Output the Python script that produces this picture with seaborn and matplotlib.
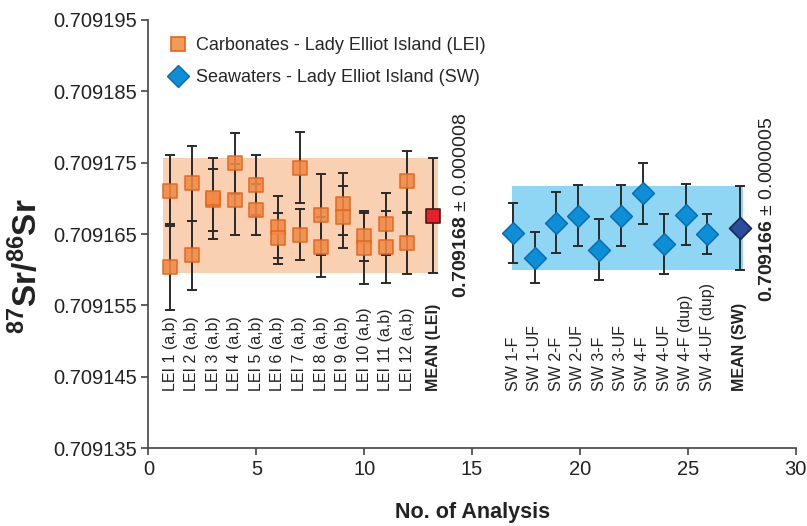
import numpy as np
import pandas as pd
import seaborn as sns
import matplotlib.pyplot as plt
from matplotlib.lines import Line2D
from matplotlib.ticker import FormatStrFormatter

# %% veriler
lei_x = [1, 2, 3, 4, 5, 6, 7, 8, 9, 10, 11, 12]
lei_a = [0.7091711, 0.7091721, 0.7091698, 0.7091749, 0.7091719, 0.7091660,
         0.7091743, 0.7091677, 0.7091692, 0.7091647, 0.7091664, 0.7091724]
lei_a_err = [0.0000050, 0.0000053, 0.0000043, 0.0000043, 0.0000042, 0.0000043,
             0.0000050, 0.0000057, 0.0000043, 0.0000035, 0.0000043, 0.0000043]
lei_b = [0.7091604, 0.7091620, 0.7091700, 0.7091698, 0.7091684, 0.7091644,
         0.7091649, 0.7091632, 0.7091674, 0.7091630, 0.7091632, 0.7091637]
lei_b_err = [0.0000060, 0.0000048, 0.0000057, 0.0000050, 0.0000036, 0.0000036,
             0.0000036, 0.0000042, 0.0000043, 0.0000050, 0.0000050, 0.0000043]
lei_labels = ["LEI 1 (a,b)", "LEI 2 (a,b)", "LEI 3 (a,b)", "LEI 4 (a,b)", "LEI 5 (a,b)",
              "LEI 6 (a,b)", "LEI 7 (a,b)", "LEI 8 (a,b)", "LEI 9 (a,b)", "LEI 10 (a,b)",
              "LEI 11 (a,b)", "LEI 12 (a,b)"]
lei_mean_x = 13.2
lei_mean = 0.7091676
lei_mean_err = 0.0000081

sw_x = [16.9, 17.9, 18.9, 19.9, 20.9, 21.9, 22.9, 23.9, 24.9, 25.9]
sw_y = [0.7091651, 0.7091617, 0.7091666, 0.7091676, 0.7091628, 0.7091676,
        0.7091707, 0.7091636, 0.7091677, 0.7091650]
sw_err = [0.0000042, 0.0000036, 0.0000043, 0.0000043, 0.0000043, 0.0000043,
          0.0000043, 0.0000042, 0.0000043, 0.0000028]
sw_labels = ["SW 1-F", "SW 1-UF", "SW 2-F", "SW 2-UF", "SW 3-F", "SW 3-UF",
             "SW 4-F", "SW 4-UF", "SW 4-F (dup)", "SW 4-UF (dup)"]
sw_mean_x = 27.4
sw_mean = 0.7091658
sw_mean_err = 0.0000059

lei_text = ("0.709168", "± 0.000008")
sw_text = ("0.709166", "± 0.000005")

# %% tablo
lei_df = pd.DataFrame({"x": lei_x + lei_x, "y": lei_a + lei_b, "err": lei_a_err + lei_b_err})
sw_df = pd.DataFrame({"x": sw_x, "y": sw_y, "err": sw_err})

# %% stil
sns.set_style("ticks")
plt.rcParams["font.family"] = ["Liberation Sans", "DejaVu Sans"]
plt.rcParams["mathtext.fontset"] = "custom"
plt.rcParams["mathtext.rm"] = "Liberation Sans"
plt.rcParams["mathtext.bf"] = "Liberation Sans:bold"
plt.rcParams["mathtext.it"] = "Liberation Sans:italic"

orange = "#F28A45"
orange_edge = "#E2661C"
orange_band = "#FAD0B2"
blue = "#0C8FD6"
blue_edge = "#0A68AE"
blue_band = "#8ED6F4"
txt = "#222222"
ecol = "#2a2a2a"

fig, ax = plt.subplots(figsize=(8.07, 5.26), dpi=100)
fig.subplots_adjust(left=0.184, right=0.986, top=0.962, bottom=0.148)

# ortalama bantları
ax.fill_between([0.67, 13.4], lei_mean - lei_mean_err, lei_mean + lei_mean_err,
                color=orange_band, lw=0, zorder=1)
ax.fill_between([16.84, 27.56], sw_mean - sw_mean_err, sw_mean + sw_mean_err,
                color=blue_band, lw=0, zorder=1)

# hata çubukları
ax.errorbar(lei_df["x"], lei_df["y"], yerr=lei_df["err"], fmt="none", ecolor=ecol,
            elinewidth=1.4, capsize=3.5, capthick=1.4, zorder=2)
ax.errorbar(sw_df["x"], sw_df["y"], yerr=sw_df["err"], fmt="none", ecolor=ecol,
            elinewidth=1.4, capsize=3.5, capthick=1.4, zorder=2)
ax.errorbar([lei_mean_x, sw_mean_x], [lei_mean, sw_mean], yerr=[lei_mean_err, sw_mean_err],
            fmt="none", ecolor=ecol, elinewidth=1.4, capsize=3.5, capthick=1.4, zorder=2)

# noktalar
sns.scatterplot(data=lei_df, x="x", y="y", marker="s", s=115, color=orange,
                edgecolor=orange_edge, linewidth=1.2, alpha=0.88, zorder=3, ax=ax, legend=False)
sns.scatterplot(data=sw_df, x="x", y="y", marker="D", s=125, color=blue,
                edgecolor=blue_edge, linewidth=1.0, zorder=3, ax=ax, legend=False)
ax.scatter([lei_mean_x], [lei_mean], marker="s", s=115, color="#E8202A",
           edgecolor="#4a1a1a", linewidth=1.2, zorder=4)
ax.scatter([sw_mean_x], [sw_mean], marker="D", s=125, color="#2A4C9C",
           edgecolor="#16285a", linewidth=1.2, zorder=4)

# dikey etiketler
label_y = 0.709143
for x, lab in zip(lei_x, lei_labels):
    ax.text(x, label_y, lab, rotation=90, ha="center", va="bottom", fontsize=11.5, color=txt)
for x, lab in zip(sw_x, sw_labels):
    ax.text(x, label_y, lab, rotation=90, ha="center", va="bottom", fontsize=11.5, color=txt)
ax.text(lei_mean_x, label_y, "MEAN (LEI)", rotation=90, ha="center", va="bottom",
        fontsize=11.5, fontweight="bold", color=txt)
ax.text(sw_mean_x, label_y, "MEAN (SW)", rotation=90, ha="center", va="bottom",
        fontsize=11.5, fontweight="bold", color=txt)

# ortalama değerleri
ax.text(14.5, 0.709156, r"$\mathbf{%s}$ %s" % lei_text, rotation=90, ha="center",
        va="bottom", fontsize=14, color=txt)
ax.text(28.7, 0.7091555, r"$\mathbf{%s}$ %s" % sw_text, rotation=90, ha="center",
        va="bottom", fontsize=14, color=txt)

# eksenler
ax.set_xlim(0, 30)
ax.set_ylim(0.709135, 0.709195)
ax.set_xticks(np.arange(0, 31, 5))
ax.set_yticks(np.arange(0.709135, 0.7091951, 0.00001))
ax.yaxis.set_major_formatter(FormatStrFormatter("%.6f"))
ax.tick_params(labelsize=14.5, colors="#444444", labelcolor=txt, length=5, width=1.2)
for s in ["left", "bottom"]:
    ax.spines[s].set_color("#444444")
    ax.spines[s].set_linewidth(1.2)
sns.despine(ax=ax)

ax.set_xlabel("No. of Analysis", fontsize=15.5, fontweight="bold", color=txt)
ax.set_ylabel(r"$^{\mathbf{87}}$Sr/$^{\mathbf{86}}$Sr", fontsize=24, fontweight="bold", color=txt)
ax.xaxis.set_label_coords(0.5, -0.125)
ax.yaxis.set_label_coords(-0.161, 0.425)

# lejant
handles = [
    Line2D([], [], marker="s", ls="none", markersize=10.5, markerfacecolor="#F39A58",
           markeredgecolor=orange_edge, markeredgewidth=1.2),
    Line2D([], [], marker="D", ls="none", markersize=11, markerfacecolor=blue,
           markeredgecolor=blue_edge, markeredgewidth=1.0),
]
ax.legend(handles, ["Carbonates - Lady Elliot Island (LEI)", "Seawaters - Lady Elliot Island (SW)"],
          loc="upper left", bbox_to_anchor=(0.01, 0.99), frameon=False, fontsize=13,
          handlelength=1.2, handletextpad=0.4, labelspacing=0.85, borderaxespad=0.3)

plt.savefig("out.png", dpi=100)
